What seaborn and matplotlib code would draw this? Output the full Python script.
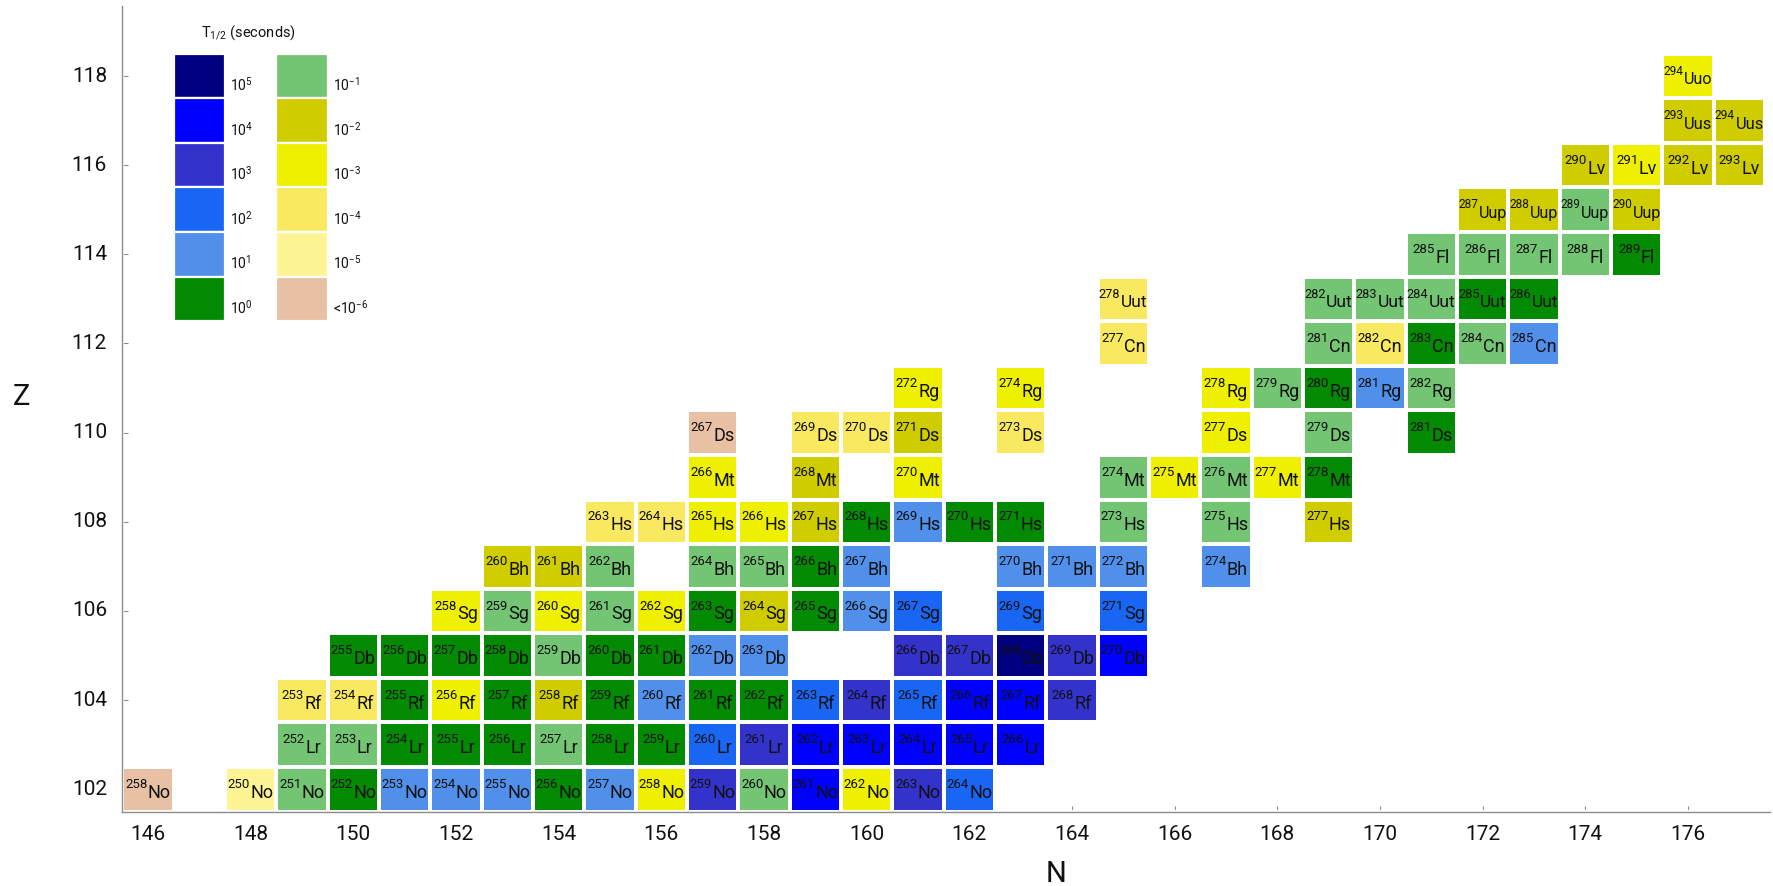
import numpy as np
import pandas as pd
import matplotlib
matplotlib.use("Agg")
import matplotlib.pyplot as plt
from matplotlib.colors import ListedColormap
from matplotlib.patches import Rectangle
import seaborn as sns

# ---- half-life classes (seconds), longest first ----
HALF_LIFE_KEYS = ["1e5", "1e4", "1e3", "1e2", "1e1", "1e0",
                  "1e-1", "1e-2", "1e-3", "1e-4", "1e-5", "<1e-6"]
HALF_LIFE_LABELS = ["10$^{5}$", "10$^{4}$", "10$^{3}$", "10$^{2}$", "10$^{1}$", "10$^{0}$",
                    "10$^{-1}$", "10$^{-2}$", "10$^{-3}$", "10$^{-4}$", "10$^{-5}$", "<10$^{-6}$"]
HALF_LIFE_COLORS = ["#000080", "#0000FF", "#3333CC", "#1966F5", "#5090EB", "#028A02",
                    "#73C473", "#CFCC00", "#EFEF00", "#F9E960", "#FFF493", "#E8C0A4"]

# ---- isotopes: (neutron number N, mass number A, half-life class) per element ----
no_102 = [(146, 258, "<1e-6"), (148, 250, "1e-5"), (149, 251, "1e-1"), (150, 252, "1e0"),
          (151, 253, "1e1"), (152, 254, "1e1"), (153, 255, "1e1"), (154, 256, "1e0"),
          (155, 257, "1e1"), (156, 258, "1e-3"), (157, 259, "1e3"), (158, 260, "1e-1"),
          (159, 261, "1e4"), (160, 262, "1e-3"), (161, 263, "1e3"), (162, 264, "1e2")]
lr_103 = [(149, 252, "1e-1"), (150, 253, "1e-1"), (151, 254, "1e0"), (152, 255, "1e0"),
          (153, 256, "1e0"), (154, 257, "1e-1"), (155, 258, "1e0"), (156, 259, "1e0"),
          (157, 260, "1e2"), (158, 261, "1e3"), (159, 262, "1e4"), (160, 263, "1e4"),
          (161, 264, "1e4"), (162, 265, "1e4"), (163, 266, "1e4")]
rf_104 = [(149, 253, "1e-4"), (150, 254, "1e-4"), (151, 255, "1e0"), (152, 256, "1e-3"),
          (153, 257, "1e0"), (154, 258, "1e-2"), (155, 259, "1e0"), (156, 260, "1e1"),
          (157, 261, "1e0"), (158, 262, "1e0"), (159, 263, "1e2"), (160, 264, "1e3"),
          (161, 265, "1e2"), (162, 266, "1e4"), (163, 267, "1e4"), (164, 268, "1e3")]
db_105 = [(150, 255, "1e0"), (151, 256, "1e0"), (152, 257, "1e0"), (153, 258, "1e0"),
          (154, 259, "1e-1"), (155, 260, "1e0"), (156, 261, "1e0"), (157, 262, "1e1"),
          (158, 263, "1e1"), (161, 266, "1e3"), (162, 267, "1e3"), (163, 268, "1e5"),
          (164, 269, "1e3"), (165, 270, "1e4")]
sg_106 = [(152, 258, "1e-3"), (153, 259, "1e-1"), (154, 260, "1e-3"), (155, 261, "1e-1"),
          (156, 262, "1e-3"), (157, 263, "1e0"), (158, 264, "1e-2"), (159, 265, "1e0"),
          (160, 266, "1e1"), (161, 267, "1e2"), (163, 269, "1e2"), (165, 271, "1e2")]
bh_107 = [(153, 260, "1e-2"), (154, 261, "1e-2"), (155, 262, "1e-1"), (157, 264, "1e-1"),
          (158, 265, "1e-1"), (159, 266, "1e0"), (160, 267, "1e1"), (163, 270, "1e1"),
          (164, 271, "1e1"), (165, 272, "1e1"), (167, 274, "1e1")]
hs_108 = [(155, 263, "1e-4"), (156, 264, "1e-4"), (157, 265, "1e-3"), (158, 266, "1e-3"),
          (159, 267, "1e-2"), (160, 268, "1e0"), (161, 269, "1e1"), (162, 270, "1e0"),
          (163, 271, "1e0"), (165, 273, "1e-1"), (167, 275, "1e-1"), (169, 277, "1e-2")]
mt_109 = [(157, 266, "1e-3"), (159, 268, "1e-2"), (161, 270, "1e-3"), (165, 274, "1e-1"),
          (166, 275, "1e-3"), (167, 276, "1e-1"), (168, 277, "1e-3"), (169, 278, "1e0")]
ds_110 = [(157, 267, "<1e-6"), (159, 269, "1e-4"), (160, 270, "1e-4"), (161, 271, "1e-2"),
          (163, 273, "1e-4"), (167, 277, "1e-3"), (169, 279, "1e-1"), (171, 281, "1e0")]
rg_111 = [(161, 272, "1e-3"), (163, 274, "1e-3"), (167, 278, "1e-3"), (168, 279, "1e-1"),
          (169, 280, "1e0"), (170, 281, "1e1"), (171, 282, "1e-1")]
cn_112 = [(165, 277, "1e-4"), (169, 281, "1e-1"), (170, 282, "1e-4"), (171, 283, "1e0"),
          (172, 284, "1e-1"), (173, 285, "1e1")]
uut_113 = [(165, 278, "1e-4"), (169, 282, "1e-1"), (170, 283, "1e-1"), (171, 284, "1e-1"),
           (172, 285, "1e0"), (173, 286, "1e0")]
fl_114 = [(171, 285, "1e-1"), (172, 286, "1e-1"), (173, 287, "1e-1"), (174, 288, "1e-1"),
          (175, 289, "1e0")]
uup_115 = [(172, 287, "1e-2"), (173, 288, "1e-2"), (174, 289, "1e-1"), (175, 290, "1e-2")]
lv_116 = [(174, 290, "1e-2"), (175, 291, "1e-3"), (176, 292, "1e-2"), (177, 293, "1e-2")]
uus_117 = [(176, 293, "1e-2"), (177, 294, "1e-2")]
uuo_118 = [(176, 294, "1e-3")]

ELEMENTS = [(102, "No", no_102), (103, "Lr", lr_103), (104, "Rf", rf_104), (105, "Db", db_105),
            (106, "Sg", sg_106), (107, "Bh", bh_107), (108, "Hs", hs_108), (109, "Mt", mt_109),
            (110, "Ds", ds_110), (111, "Rg", rg_111), (112, "Cn", cn_112), (113, "Uut", uut_113),
            (114, "Fl", fl_114), (115, "Uup", uup_115), (116, "Lv", lv_116), (117, "Uus", uus_117),
            (118, "Uuo", uuo_118)]

N_RANGE = list(range(146, 178))
Z_RANGE = list(range(102, 119))
N_TICKS = list(range(146, 177, 2))
Z_TICKS = list(range(102, 119, 2))

# ---- tidy table -> grid of class codes ----
records = []
for z, sym, cells in ELEMENTS:
    for n, a, cls in cells:
        records.append({"Z": z, "N": n, "A": a, "symbol": sym,
                        "code": HALF_LIFE_KEYS.index(cls)})
table = pd.DataFrame(records)
grid = (table.pivot(index="Z", columns="N", values="code")
        .reindex(index=Z_RANGE, columns=N_RANGE).astype(float))

# ---- style ----
sns.set_theme(style="white")
plt.rcParams["font.family"] = ["Roboto", "DejaVu Sans"]
plt.rcParams["mathtext.default"] = "regular"
plt.rcParams["mathtext.fontset"] = "custom"
plt.rcParams["mathtext.rm"] = "Roboto"

fig = plt.figure(figsize=(17.73, 8.86), dpi=100)
ax = fig.add_axes([0.0690, 0.0840, 0.9293, 0.9092])

cmap = ListedColormap(HALF_LIFE_COLORS)
sns.heatmap(grid, ax=ax, cmap=cmap, vmin=-0.5, vmax=len(HALF_LIFE_KEYS) - 0.5,
            cbar=False, linewidths=1.6, linecolor="white")

# heatmap cell (N, Z) has its centre at (N - N0 + 0.5, Z - Z0 + 0.5)
def hx(n):
    return n - N_RANGE[0] + 0.5

def hy(z):
    return z - Z_RANGE[0] + 0.5

ax.set_xlim(hx(145.5), hx(177.6))
ax.set_ylim(hy(101.5), hy(119.57))

# ---- isotope labels: small mass number followed by the element symbol ----
MASS_SIZE, SYMBOL_SIZE = 9.5, 13.0
MAX_LABEL_WIDTH = 0.95   # in cell widths
pairs = []
for row in table.itertuples():
    t_mass = ax.text(0, 0, str(row.A), fontsize=MASS_SIZE, ha="left", va="baseline",
                     color="#111111", zorder=4)
    t_sym = ax.text(0, 0, row.symbol, fontsize=SYMBOL_SIZE, ha="left", va="baseline",
                    color="#111111", zorder=4)
    pairs.append((row, t_mass, t_sym))

fig.canvas.draw()
renderer = fig.canvas.get_renderer()
px_per_n = ax.transData.transform((1, 0))[0] - ax.transData.transform((0, 0))[0]
gap = 0.01
for row, t_mass, t_sym in pairs:
    w_mass = t_mass.get_window_extent(renderer).width / px_per_n
    w_sym = t_sym.get_window_extent(renderer).width / px_per_n
    total = w_mass + gap + w_sym
    if total > MAX_LABEL_WIDTH:
        scale = MAX_LABEL_WIDTH / total
        t_mass.set_fontsize(MASS_SIZE * scale)
        t_sym.set_fontsize(SYMBOL_SIZE * scale)
        w_mass *= scale
        w_sym *= scale
        total = w_mass + gap + w_sym
    left = hx(row.N) - total / 2
    t_mass.set_position((left, hy(row.Z) + 0.03))
    t_sym.set_position((left + w_mass + gap, hy(row.Z) - 0.19))

# ---- axes ----
for side in ("left", "bottom"):
    ax.spines[side].set_visible(True)
    ax.spines[side].set_color("#8c8c8c")
    ax.spines[side].set_linewidth(1.0)
for side in ("top", "right"):
    ax.spines[side].set_visible(False)

ax.set_xticks([hx(n) for n in N_TICKS])
ax.set_xticklabels([str(n) for n in N_TICKS], rotation=0)
ax.set_yticks([hy(z) for z in Z_TICKS])
ax.set_yticklabels([str(z) for z in Z_TICKS], rotation=0)
ax.tick_params(axis="both", direction="in", length=4, width=0.8, color="#8c8c8c",
               labelsize=15, labelcolor="#111111", bottom=True, left=True)
ax.tick_params(axis="x", pad=10)
ax.tick_params(axis="y", pad=11)
ax.set_xlabel("")
ax.set_ylabel("")
ax.text(0.567, -0.078, "N", transform=ax.transAxes, ha="center", va="center",
        fontsize=21, color="#111111")
ax.text(-0.0615, 0.5147, "Z", transform=ax.transAxes, ha="center", va="center",
        fontsize=21, color="#111111")

# ---- half-life key ----
key_columns = [147, 149]
key_rows = [118, 117, 116, 115, 114, 113]
for i, (label, color) in enumerate(zip(HALF_LIFE_LABELS, HALF_LIFE_COLORS)):
    n = key_columns[i // len(key_rows)]
    z = key_rows[i % len(key_rows)]
    ax.add_patch(Rectangle((hx(n) - 0.5, hy(z) - 0.5), 1, 1, facecolor=color,
                           edgecolor="white", linewidth=1.6, zorder=3))
    ax.text(hx(n) + 0.6, hy(z) - 0.2, label, ha="left", va="center",
            fontsize=10, color="#111111", zorder=4)
ax.text(hx(147.95), hy(118.98), "T$_{1/2}$ (seconds)", ha="center", va="center",
        fontsize=10.5, color="#111111", zorder=4)

fig.savefig("out.png", dpi=100, facecolor="white")
